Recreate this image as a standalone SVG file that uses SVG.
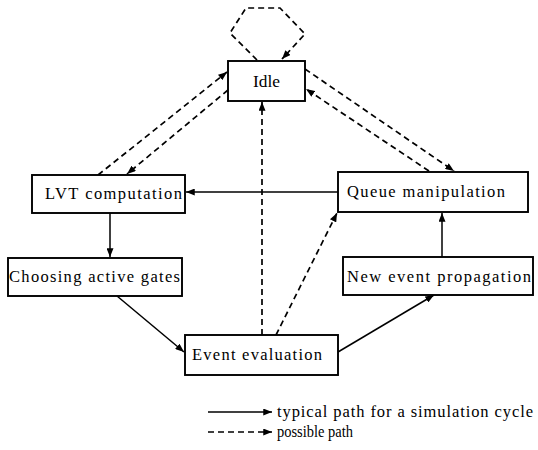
<svg xmlns="http://www.w3.org/2000/svg" width="538" height="450" viewBox="0 0 538 450">
<style>
.box{fill:#fff;stroke:#000;stroke-width:1.9}
.t{font-family:"Liberation Serif","Times New Roman",serif;font-size:16.5px;fill:#000}
.s{fill:none;stroke:#000;stroke-width:1.5;marker-end:url(#ah)}
.d{fill:none;stroke:#000;stroke-width:1.7;stroke-dasharray:6 4;marker-end:url(#ah)}
</style>
<defs>
<marker id="ah" viewBox="0 0 10 8" refX="10" refY="4" markerWidth="9" markerHeight="7" markerUnits="userSpaceOnUse" orient="auto">
<path d="M0,0 L10,4 L0,8 Z" fill="#000"/>
</marker>
</defs>
<rect width="538" height="450" fill="#fff"/>
<g id="connectors">
<path class="d" d="M257,60 L230,33 L246,8 L280,8 L305,34 L282,59"/>
<path class="d" d="M98,175 L227,72"/>
<path class="d" d="M228,90 L127,174"/>
<path class="d" d="M305,69 L454,171"/>
<path class="d" d="M429,171 L306,89"/>
<path class="d" d="M262,335 L262,102"/>
<path class="d" d="M276,335 L337,213"/>
<path class="s" d="M338,192 L186,192"/>
<path class="s" d="M110,213 L110,257"/>
<path class="s" d="M442,257 L442,213"/>
<path class="s" d="M117,296 L184,352"/>
<path class="s" d="M338,352 L434,295"/>
</g>
<g id="idle"><rect class="box" x="228" y="61" width="77" height="40"/><text class="t" x="253" y="87" textLength="27" lengthAdjust="spacingAndGlyphs">Idle</text></g>
<g id="lvt"><rect class="box" x="32" y="175" width="153" height="38"/><text class="t" x="45" y="199" textLength="137" lengthAdjust="spacing">LVT computation</text></g>
<g id="choosing"><rect class="box" x="8" y="258" width="174" height="38"/><text class="t" x="9" y="282" textLength="171" lengthAdjust="spacing">Choosing active gates</text></g>
<g id="queue"><rect class="box" x="338" y="172" width="190" height="40"/><text class="t" x="347" y="197" textLength="158" lengthAdjust="spacing">Queue manipulation</text></g>
<g id="newevent"><rect class="box" x="343" y="257" width="190" height="38"/><text class="t" x="347" y="282" textLength="184" lengthAdjust="spacing">New event propagation</text></g>
<g id="eval"><rect class="box" x="185" y="335" width="153" height="40"/><text class="t" x="192" y="360" textLength="130" lengthAdjust="spacing">Event evaluation</text></g>
<g id="legend">
<path class="s" d="M208,412 L272,412"/>
<path class="d" d="M208,432 L272,432" stroke-dasharray="5 4"/>
<text class="t" x="277" y="417" textLength="256" lengthAdjust="spacing">typical path for a simulation cycle</text>
<text class="t" x="277" y="437" textLength="76" lengthAdjust="spacingAndGlyphs">possible path</text>
</g>
</svg>
